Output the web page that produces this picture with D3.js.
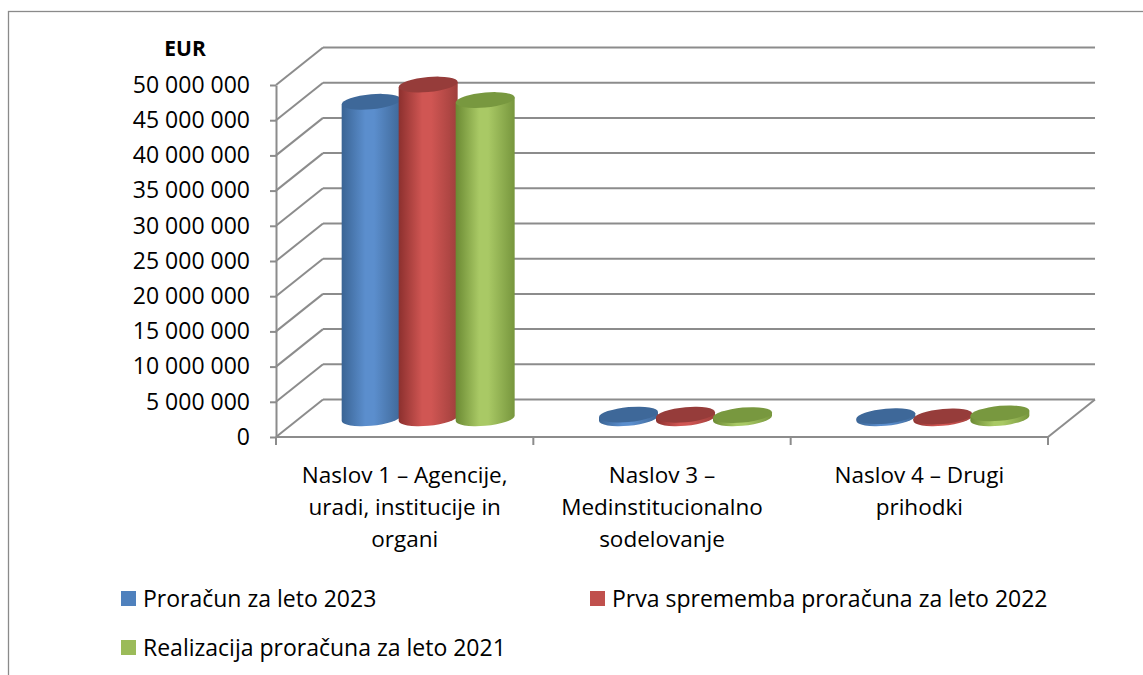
<!DOCTYPE html>
<html>
<head>
<meta charset="utf-8">
<script src="https://cdn.jsdelivr.net/npm/d3@7"></script>
<style>
  body { margin: 0; background: #fff; }
  text { font-family: "Open Sans", sans-serif; fill: #000; }
</style>
</head>
<body>
<div id="chart"></div>
<script>
// podatki
const kategorije = ["Naslov 1", "Naslov 3", "Naslov 4"];
const oznakeKategorij = [
  ["Naslov 1 – Agencije,", "uradi, institucije in", "organi"],
  ["Naslov 3 –", "Medinstitucionalno", "sodelovanje"],
  ["Naslov 4 – Drugi", "prihodki"]
];
const serije = ["Proračun za leto 2023", "Prva sprememba proračuna za leto 2022", "Realizacija proračuna za leto 2021"];
const proracun2023 = [44950000, 520000, 300000];
const sprememba2022 = [47400000, 500000, 250000];
const realizacija2021 = [45200000, 450000, 700000];
const vrednosti = [proracun2023, sprememba2022, realizacija2021];
const yTicks = [0, 5000000, 10000000, 15000000, 20000000, 25000000, 30000000, 35000000, 40000000, 45000000, 50000000];

const barve = [
  { osnovna: "#4f81bd", temna: "#3a6494", svetla: "#5b8ecd", desna: "#3f6898", vrh: "#3e6899" },
  { osnovna: "#c0504d", temna: "#8c302e", svetla: "#d05653", desna: "#9f3f3c", vrh: "#963c3a" },
  { osnovna: "#9bbb59", temna: "#6b8a33", svetla: "#a9c965", desna: "#77963d", vrh: "#78983f" }
];

const W = 1143, H = 675;
const dx = 47, dy = 37.5;   // globina (premik zadnje stene)
const x0 = 276, x1 = 1048;

const svg = d3.select("#chart").append("svg")
  .attr("width", W)
  .attr("height", H);

// okvir
svg.append("rect")
  .attr("x", 8.5).attr("y", 11.5)
  .attr("width", 1200).attr("height", 700)
  .attr("fill", "none").attr("stroke", "#8a8a8a").attr("stroke-width", 1.3);

const y = d3.scaleLinear().domain([0, 50000000]).range([437, 85]);
const x = d3.scaleBand().domain(kategorije).range([x0, x1]);
const xs = d3.scaleBand().domain(d3.range(serije.length)).range([-85.5, 85.5]);

const gridCol = "#8c8c8c";
const grid = svg.append("g").attr("stroke", gridCol).attr("stroke-width", 2).attr("fill", "none");

yTicks.forEach(t => {
  grid.append("line")
    .attr("x1", x0).attr("y1", y(t))
    .attr("x2", x0 + dx).attr("y2", y(t) - dy);
  grid.append("line")
    .attr("x1", x0 + dx).attr("y1", y(t) - dy)
    .attr("x2", x1 + dx).attr("y2", y(t) - dy);
});

// tla
grid.append("line")
  .attr("x1", x0).attr("y1", y(0))
  .attr("x2", x1).attr("y2", y(0));
grid.append("line")
  .attr("x1", x1).attr("y1", y(0))
  .attr("x2", x1 + dx).attr("y2", y(0) - dy);

// kategorijske oznake
const meje = kategorije.map(k => x(k)).concat([x1]);
meje.forEach(m => {
  grid.append("line")
    .attr("x1", m).attr("y1", y(0))
    .attr("x2", m).attr("y2", y(0) + 8);
});

// y os
const fmt = d3.formatLocale({ thousands: " ", grouping: [3], decimal: "," }).format(",d");
const yAxis = svg.append("g")
  .attr("transform", `translate(${x0},0)`)
  .call(d3.axisLeft(y).tickValues(yTicks).tickFormat(fmt).tickSize(6).tickSizeOuter(0).tickPadding(20));
yAxis.select(".domain").attr("stroke", gridCol).attr("stroke-width", 2);
yAxis.selectAll(".tick line").attr("stroke", gridCol).attr("stroke-width", 2);
yAxis.selectAll(".tick text")
  .attr("font-family", "Open Sans")
  .attr("font-size", 23)
  .attr("fill", "#000");

svg.append("text")
  .attr("x", 185).attr("y", 56)
  .attr("text-anchor", "middle")
  .attr("font-size", 21)
  .attr("font-weight", "bold")
  .text("EUR");

// gradienti
const defs = svg.append("defs");
barve.forEach((b, i) => {
  const g = defs.append("linearGradient")
    .attr("id", "grad" + i)
    .attr("x1", "0").attr("x2", "1").attr("y1", "0").attr("y2", "0");
  g.append("stop").attr("offset", "0").attr("stop-color", b.temna);
  g.append("stop").attr("offset", "0.4").attr("stop-color", b.svetla);
  g.append("stop").attr("offset", "0.55").attr("stop-color", b.svetla);
  g.append("stop").attr("offset", "1").attr("stop-color", b.desna);
});

// valji
const r = 29.5, ry = 7.5;
const bars = svg.append("g");
kategorije.forEach((k, ci) => {
  serije.forEach((s, si) => {
    const v = vrednosti[si][ci];
    const cx = x(k) + x.bandwidth() / 2 + dx / 2 + xs(si) + xs.bandwidth() / 2;
    const base = y(0) - dy / 2;
    const top = y(v) - dy / 2;
    const g = bars.append("g")
      .attr("transform", `translate(${cx},0) skewY(-5)`);
    g.append("path")
      .attr("d", `M${-r},${top} L${-r},${base} A${r},${ry} 0 0 0 ${r},${base} L${r},${top} Z`)
      .attr("fill", `url(#grad${si})`);
    g.append("ellipse")
      .attr("cx", 0).attr("cy", top)
      .attr("rx", r).attr("ry", ry)
      .attr("fill", barve[si].vrh);
  });
});

// oznake kategorij
kategorije.forEach((k, ci) => {
  const t = svg.append("text")
    .attr("text-anchor", "middle")
    .attr("font-size", 22.5);
  oznakeKategorij[ci].forEach((line, li) => {
    t.append("tspan")
      .attr("x", x(k) + x.bandwidth() / 2)
      .attr("y", 483 + li * 32)
      .text(line);
  });
});

// legenda
const legPos = [[121, 591], [590, 591], [121, 640]];
serije.forEach((s, i) => {
  const g = svg.append("g").attr("transform", `translate(${legPos[i][0]},${legPos[i][1]})`);
  g.append("rect").attr("width", 15).attr("height", 15).attr("fill", barve[i].osnovna);
  g.append("text")
    .attr("x", 22).attr("y", 7.5)
    .attr("dy", "0.35em")
    .attr("font-size", 23)
    .text(s);
});
</script>
</body>
</html>
